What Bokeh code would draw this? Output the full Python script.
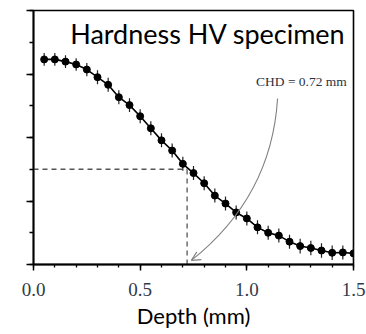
from bokeh.plotting import figure
from bokeh.models import (ColumnDataSource, SingleIntervalTicker, PrintfTickFormatter,
                          CustomJSTickFormatter, Label, Arrow, OpenHead, Range1d)
from bokeh.embed import file_html
from bokeh.resources import INLINE

# Hardness profile measured along the depth of the specimen
depth = [0.05, 0.10, 0.15, 0.20, 0.25, 0.30, 0.35, 0.40, 0.45, 0.50,
         0.55, 0.60, 0.65, 0.70, 0.75, 0.80, 0.85, 0.90, 0.95, 1.00,
         1.05, 1.10, 1.15, 1.20, 1.25, 1.30, 1.35, 1.40, 1.45, 1.50]
hardness = [6.46, 6.46, 6.39, 6.30, 6.14, 5.90, 5.66, 5.27, 5.02, 4.67,
            4.29, 3.91, 3.59, 3.17, 2.88, 2.56, 2.17, 1.92, 1.64, 1.45,
            1.17, 1.00, 0.91, 0.72, 0.58, 0.52, 0.44, 0.37, 0.38, 0.35]
spread = [0.20, 0.20, 0.20, 0.20, 0.21, 0.22, 0.22, 0.22, 0.22, 0.22,
          0.22, 0.22, 0.22, 0.22, 0.22, 0.22, 0.22, 0.22, 0.22, 0.22,
          0.22, 0.22, 0.22, 0.22, 0.23, 0.23, 0.23, 0.23, 0.22, 0.22]

# Case hardening depth and the hardness level that defines it
chd = 0.72
limit_level = 3.0

src = ColumnDataSource(dict(
    x=depth, y=hardness,
    lo=[h - s for h, s in zip(hardness, spread)],
    hi=[h + s for h, s in zip(hardness, spread)],
))

p = figure(width=366, height=334, output_backend="svg", toolbar_location=None,
           x_range=Range1d(0, 1.5), y_range=Range1d(0, 8),
           min_border_left=33, min_border_right=13, min_border_top=10,
           min_border_bottom=70)
p.xgrid.visible = False
p.ygrid.visible = False
p.outline_line_color = "black"
p.outline_line_width = 1.6
p.background_fill_color = "white"
p.border_fill_color = "white"

# x axis: serif labels every 0.5 mm, minor ticks every 0.1 mm
xa = p.xaxis[0]
xa.ticker = SingleIntervalTicker(interval=0.5, num_minor_ticks=5)
xa.formatter = PrintfTickFormatter(format="%.1f")
xa.major_label_text_font = "Liberation Serif"
xa.major_label_text_font_size = "19px"
xa.major_label_text_color = "#333a4a"
xa.major_label_standoff = 12
xa.major_tick_in = 0
xa.major_tick_out = 6
xa.minor_tick_in = 0
xa.minor_tick_out = 3
xa.axis_line_width = 1.8
xa.major_tick_line_width = 1.5
xa.minor_tick_line_width = 1.3
xa.axis_label = "Depth (mm)"
xa.axis_label_text_font = "Lato"
xa.axis_label_text_font_size = "22px"
xa.axis_label_text_font_style = "normal"
xa.axis_label_text_color = "black"
xa.axis_label_standoff = 3

# y axis: ticks only, no numbers
ya = p.yaxis[0]
ya.ticker = SingleIntervalTicker(interval=2, num_minor_ticks=2)
ya.formatter = CustomJSTickFormatter(code="return ''")
ya.major_tick_in = 0
ya.major_tick_out = 7
ya.minor_tick_in = 0
ya.minor_tick_out = 4
ya.axis_line_width = 1.8
ya.major_tick_line_width = 1.3
ya.minor_tick_line_width = 1.3

# CHD guide lines
p.line([0, chd], [limit_level, limit_level], line_color="#555555",
       line_width=1.3, line_dash="5 4")
p.line([chd, chd], [0, limit_level], line_color="#555555",
       line_width=1.3, line_dash="5 4")

# measured curve with error bars
p.line("x", "y", source=src, line_color="black", line_width=1.6)
p.segment(x0="x", y0="lo", x1="x", y1="hi", source=src,
          line_color="#222222", line_width=1.2)
p.scatter("x", "y", source=src, size=7, fill_color="black", line_color="black")

# curved pointer from the CHD note down to the depth axis
sx, sy = 1.144, 5.23
ex, ey = chd + 0.02, 0.13
cx, cy = 1.116, 2.14
p.quadratic(x0=[sx], y0=[sy], x1=[ex], y1=[ey], cx=[cx], cy=[cy],
            line_color="#808080", line_width=1.1)
p.add_layout(Arrow(end=OpenHead(size=9, line_color="#808080", line_width=1.1),
                   x_start=ex + 0.03, y_start=ey + 0.12, x_end=ex, y_end=ey,
                   line_color="#808080", line_width=1.1, line_alpha=0))

p.add_layout(Label(x=1.043, y=5.76, text=f"CHD = {chd:.2f} mm",
                   text_font="Liberation Serif", text_font_size="13.5px",
                   text_color="#2b3242", text_baseline="alphabetic"))

p.add_layout(Label(x=0.172, y=7.27, text="Hardness HV specimen",
                   text_font="Lato", text_font_size="27px",
                   text_color="black", text_baseline="alphabetic"))

open("out.html", "w").write(file_html(p, INLINE))
